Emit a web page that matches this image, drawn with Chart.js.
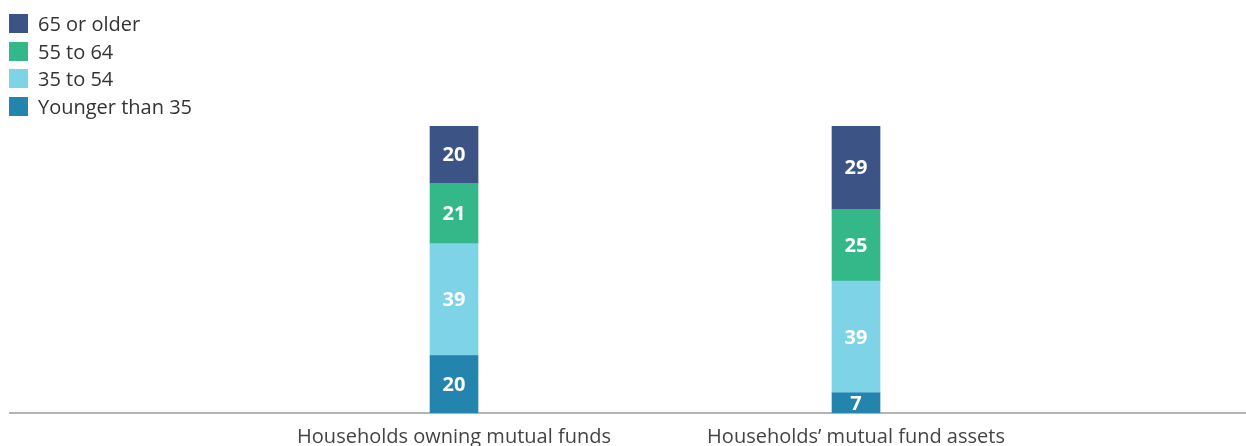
<!DOCTYPE html>
<html>
<head>
<meta charset="utf-8">
<script src="https://cdn.jsdelivr.net/npm/chart.js@4/dist/chart.umd.min.js"></script>
<style>
  html, body { margin: 0; padding: 0; background: #ffffff; overflow: hidden; }
  #wrap { position: relative; width: 1246px; height: 463px; }
  #legend { position: absolute; left: 9px; top: 10px; font-family: "Open Sans", "Noto Sans", sans-serif; font-size: 20px; color: #333333; }
  .item { display: flex; align-items: center; height: 27.6px; }
  .box { width: 19px; height: 19px; margin-right: 10px; flex: none; }
</style>
</head>
<body>
<div id="wrap">
  <canvas id="c" width="1246" height="463"></canvas>
  <div id="legend"></div>
</div>
<script>
const categories = ["Households owning mutual funds", "Households\u2019 mutual fund assets"];
const seriesNames = ["Younger than 35", "35 to 54", "55 to 64", "65 or older"];
const younger35 = [20, 7];
const age35to54 = [39, 39];
const age55to64 = [21, 25];
const age65plus = [20, 29];
const colors = ["#2385ae", "#7ed3e6", "#34b88a", "#3c5485"];

const seriesValues = [younger35, age35to54, age55to64, age65plus];

const datasets = seriesNames.map((name, i) => ({
  label: name,
  data: seriesValues[i].map((v, j) => ({ x: j, y: v })),
  backgroundColor: colors[i],
  borderWidth: 0,
  barThickness: 48
}));

const valueLabels = {
  id: 'valueLabels',
  afterDatasetsDraw(chart) {
    const ctx = chart.ctx;
    ctx.save();
    ctx.fillStyle = '#ffffff';
    ctx.font = 'bold 20px "Open Sans", "Noto Sans", sans-serif';
    ctx.textAlign = 'center';
    ctx.textBaseline = 'middle';
    chart.data.datasets.forEach((ds, i) => {
      const meta = chart.getDatasetMeta(i);
      meta.data.forEach((bar, j) => {
        const p = bar.getProps(['x', 'y', 'base'], true);
        ctx.fillText(String(ds.data[j].y), p.x, (p.y + p.base) / 2 + 1);
      });
    });
    ctx.restore();
  }
};

const chart = new Chart(document.getElementById('c'), {
  type: 'bar',
  data: { datasets },
  options: {
    responsive: false,
    animation: false,
    layout: { padding: { top: 126, left: 10, right: 0, bottom: 2 } },
    plugins: { legend: { display: false }, tooltip: { enabled: false } },
    scales: {
      x: {
        type: 'linear',
        stacked: true,
        offset: false,
        min: -1.1045,
        max: 1.9701,
        afterBuildTicks(axis) { axis.ticks = categories.map((c, i) => ({ value: i })); },
        ticks: {
          callback: (v) => categories[v],
          font: { family: '"Open Sans", "Noto Sans", sans-serif', size: 20 },
          color: '#444444',
          padding: 12,
          maxRotation: 0,
          autoSkip: false
        },
        grid: { display: false, drawTicks: false, offset: false },
        border: { display: true, color: '#b4b4b4', width: 2 }
      },
      y: {
        stacked: true,
        display: false,
        min: 0,
        max: 100
      }
    }
  },
  plugins: [valueLabels]
});

const legendEl = document.getElementById('legend');
chart.data.datasets.slice().reverse().forEach(ds => {
  const item = document.createElement('div');
  item.className = 'item';
  const box = document.createElement('div');
  box.className = 'box';
  box.style.background = ds.backgroundColor;
  const txt = document.createElement('span');
  txt.textContent = ds.label;
  item.appendChild(box);
  item.appendChild(txt);
  legendEl.appendChild(item);
});
</script>
</body>
</html>
